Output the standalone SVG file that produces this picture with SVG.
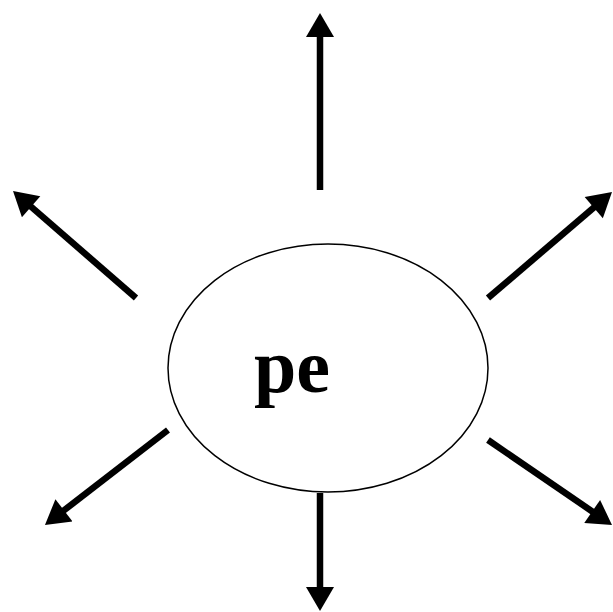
<svg xmlns="http://www.w3.org/2000/svg" width="613" height="612" viewBox="0 0 613 612">
<style>
.arr{stroke:#000;stroke-width:6.5;fill:none;marker-end:url(#ah)}
.lbl{font-family:"Liberation Serif","Times New Roman",serif;font-weight:bold;font-size:76px;fill:#000}
</style>
<defs>
<marker id="ah" markerUnits="userSpaceOnUse" markerWidth="28" markerHeight="28" refX="4" refY="14" orient="auto" viewBox="0 0 24 28">
<path d="M0,0 L24,14 L0,28 z" fill="#000"/>
</marker>
</defs>
<rect width="613" height="612" fill="#fff"/>
<g id="connectors">
<line class="arr" x1="320" y1="190" x2="320" y2="33"/>
<line class="arr" x1="136" y1="298" x2="28.1" y2="204.1"/>
<line class="arr" x1="488" y1="298" x2="596.8" y2="205"/>
<line class="arr" x1="168" y1="430" x2="60.8" y2="512.8"/>
<line class="arr" x1="488" y1="440" x2="595.5" y2="513.7"/>
<line class="arr" x1="320" y1="493" x2="320" y2="591"/>
</g>
<g id="pe">
<ellipse cx="328" cy="368" rx="160" ry="124" fill="#fff" stroke="#000" stroke-width="1.5"/>
<text class="lbl" x="292" y="392" text-anchor="middle">pe</text>
</g>
</svg>
